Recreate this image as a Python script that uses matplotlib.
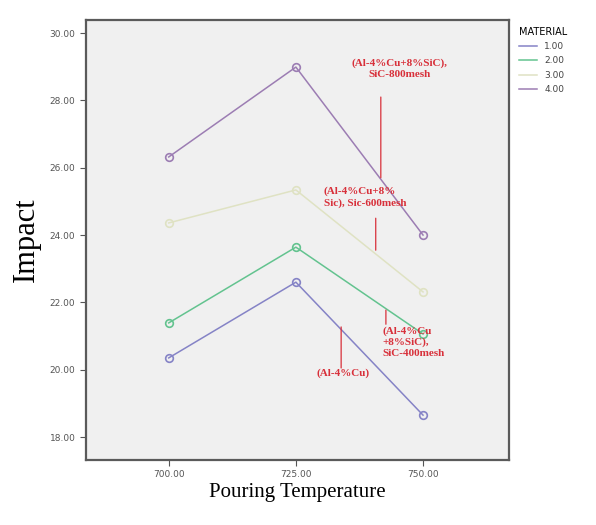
import matplotlib.pyplot as plt

# data
temps = [700, 725, 750]
materials = ['1.00', '2.00', '3.00', '4.00']
impact_1 = [20.35, 22.60, 18.65]
impact_2 = [21.39, 23.64, 21.06]
impact_3 = [24.36, 25.34, 22.31]
impact_4 = [26.32, 28.99, 24.00]
colors = ['#8583c6', '#63c38f', '#dfe2c3', '#9c7db3']

y_ticks = [18, 20, 22, 24, 26, 28, 30]

# annotation text, text position, leader line (start, end)
notes = [
    ('(Al-4%Cu+8%SiC),\nSiC-800mesh', (745.3, 29.25), 'center', (741.7, 28.1), (741.7, 25.7)),
    ('(Al-4%Cu+8%\nSic), Sic-600mesh', (730.5, 25.45), 'left', (740.7, 24.5), (740.7, 23.55)),
    ('(Al-4%Cu\n+8%SiC),\nSiC-400mesh', (742.0, 21.3), 'left', (742.7, 21.77), (742.7, 21.35)),
    ('(Al-4%Cu)', (734.2, 20.05), 'center', (733.9, 21.27), (733.9, 20.05)),
]
red = '#d8303a'

fig = plt.figure(figsize=(5.96, 5.25), dpi=100)
ax = fig.add_axes([0.144, 0.124, 0.71, 0.838])
ax.set_facecolor('#f0f0f0')

series = [impact_1, impact_2, impact_3, impact_4]
for vals, c, lab in zip(series, colors, materials):
    ax.plot(temps, vals, color=c, lw=1.1, label=lab)
    ax.plot(temps, vals, 'o', ms=5.5, mfc='none', mec=c, mew=1.2)

for txt, pos, ha, p0, p1 in notes:
    ax.text(pos[0], pos[1], txt, color=red, fontsize=8, family='Liberation Serif',
            fontweight='bold', ha=ha, va='top', linespacing=1.3)
    ax.annotate('', xy=p1, xytext=p0,
                arrowprops=dict(arrowstyle='-', color=red, lw=0.9, shrinkA=0, shrinkB=0))

ax.set_xlim(683.7, 766.9)
ax.set_ylim(17.32, 30.39)
ax.set_xticks(temps)
ax.set_xticklabels([f'{t:.2f}' for t in temps])
ax.set_yticks(y_ticks)
ax.set_yticklabels([f'{v:.2f}' for v in y_ticks])
ax.tick_params(labelsize=6.5, labelcolor='#555555', color='#555555', length=4, width=0.8)

for sp in ax.spines.values():
    sp.set_color('#5a5a5a')
    sp.set_linewidth(1.6)

ax.set_ylabel('Impact', family='Liberation Serif', fontsize=22, labelpad=6)
ax.set_xlabel('Pouring Temperature', family='Liberation Serif', fontsize=15, labelpad=3)

handles = ax.get_lines()[0::2]
leg = fig.legend(handles, materials, title='MATERIAL', loc='upper left',
                 bbox_to_anchor=(0.857, 0.965), frameon=False, fontsize=6.5,
                 title_fontsize=7, handlelength=2, labelspacing=0.6, alignment='left')
for t in leg.get_texts():
    t.set_color('#444444')

fig.savefig('out.png', dpi=100)
